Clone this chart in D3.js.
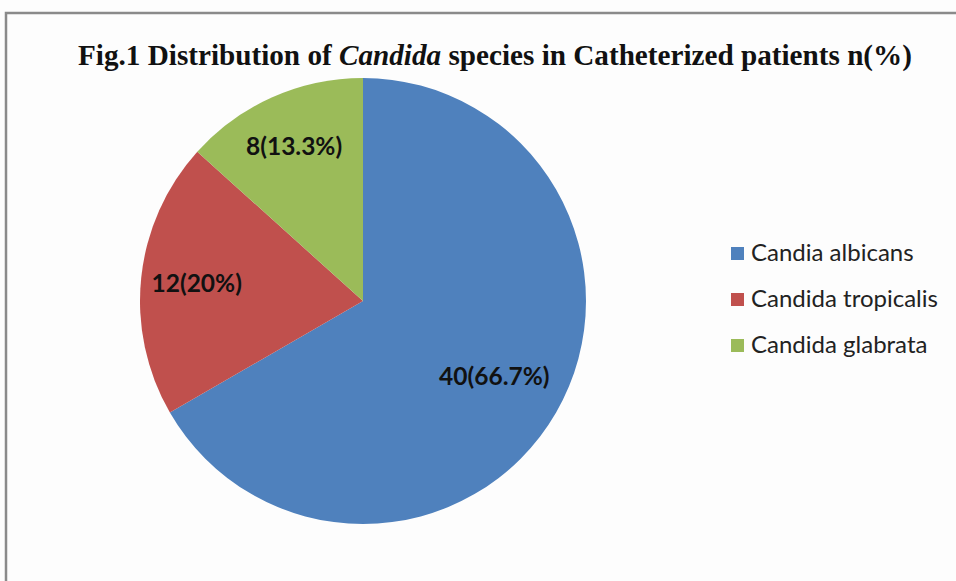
<!DOCTYPE html>
<html><head><meta charset="utf-8">
<script src="https://cdn.jsdelivr.net/npm/d3@7"></script>
<style>body{margin:0;background:#fff}svg{display:block}</style>
</head><body>
<script>
const categories = ["Candia albicans", "Candida tropicalis", "Candida glabrata"];
const counts = [40, 12, 8];
const percentLabels = ["66.7%", "20%", "13.3%"];
const colors = ["#4F81BD", "#C0504D", "#9BBB59"];
const labelRadiusRatio = [0.68, 0.75, 0.76];

const W = 956, H = 581;
const svg = d3.select("body").append("svg").attr("width", W).attr("height", H);
svg.append("rect").attr("width", W).attr("height", H).attr("fill", "#fdfdfd");
// frame
svg.append("path").attr("d", `M6,${H} L6,13 L${W},13`).attr("fill", "none")
  .attr("stroke", "#8a8a8a").attr("stroke-width", 2.5);

// title
const title = svg.append("text").attr("x", 78).attr("y", 65)
  .attr("font-family", "Liberation Serif, Times New Roman, serif")
  .attr("font-weight", "bold").attr("font-size", 29).attr("fill", "#111")
  .attr("textLength", 834).attr("lengthAdjust", "spacingAndGlyphs");
title.append("tspan").text("Fig.1 Distribution of ");
title.append("tspan").attr("font-style", "italic").text("Candida");
title.append("tspan").text(" species in Catheterized patients n(%)");

const cx = 363, cy = 301, r = 223;
const data = categories.map((c, i) => ({cat: c, value: counts[i], pct: percentLabels[i], color: colors[i], lr: labelRadiusRatio[i]}));
const pie = d3.pie().sort(null).value(d => d.value);
const arcs = pie(data);
const arc = d3.arc().innerRadius(0).outerRadius(r);
const g = svg.append("g").attr("transform", `translate(${cx},${cy})`);
g.selectAll("path.slice").data(arcs).join("path").attr("class", "slice")
  .attr("d", arc).attr("fill", d => d.data.color);

g.selectAll("text.lbl").data(arcs).join("text").attr("class", "lbl")
  .each(function(d) {
    const a = (d.startAngle + d.endAngle) / 2;
    const rr = r * d.data.lr;
    d3.select(this).attr("x", Math.sin(a) * rr).attr("y", -Math.cos(a) * rr);
  })
  .attr("text-anchor", "middle").attr("dy", "0.35em")
  .attr("font-family", "Lato, Carlito, sans-serif").attr("font-weight", "bold")
  .attr("font-size", 24.5).attr("fill", "#111")
  .text(d => `${d.data.value}(${d.data.pct})`);

// legend
const legend = svg.append("g").attr("transform", "translate(731,253)");
const items = legend.selectAll("g").data(data).join("g")
  .attr("transform", (d, i) => `translate(0,${i * 46})`);
items.append("rect").attr("x", 0).attr("y", -6).attr("width", 13).attr("height", 13)
  .attr("fill", d => d.color);
items.append("text").attr("x", 20).attr("y", 0).attr("dy", "0.35em")
  .attr("font-family", "Lato, Carlito, sans-serif").attr("font-size", 24).attr("fill", "#222")
  .text(d => d.cat);
</script>
</body></html>
